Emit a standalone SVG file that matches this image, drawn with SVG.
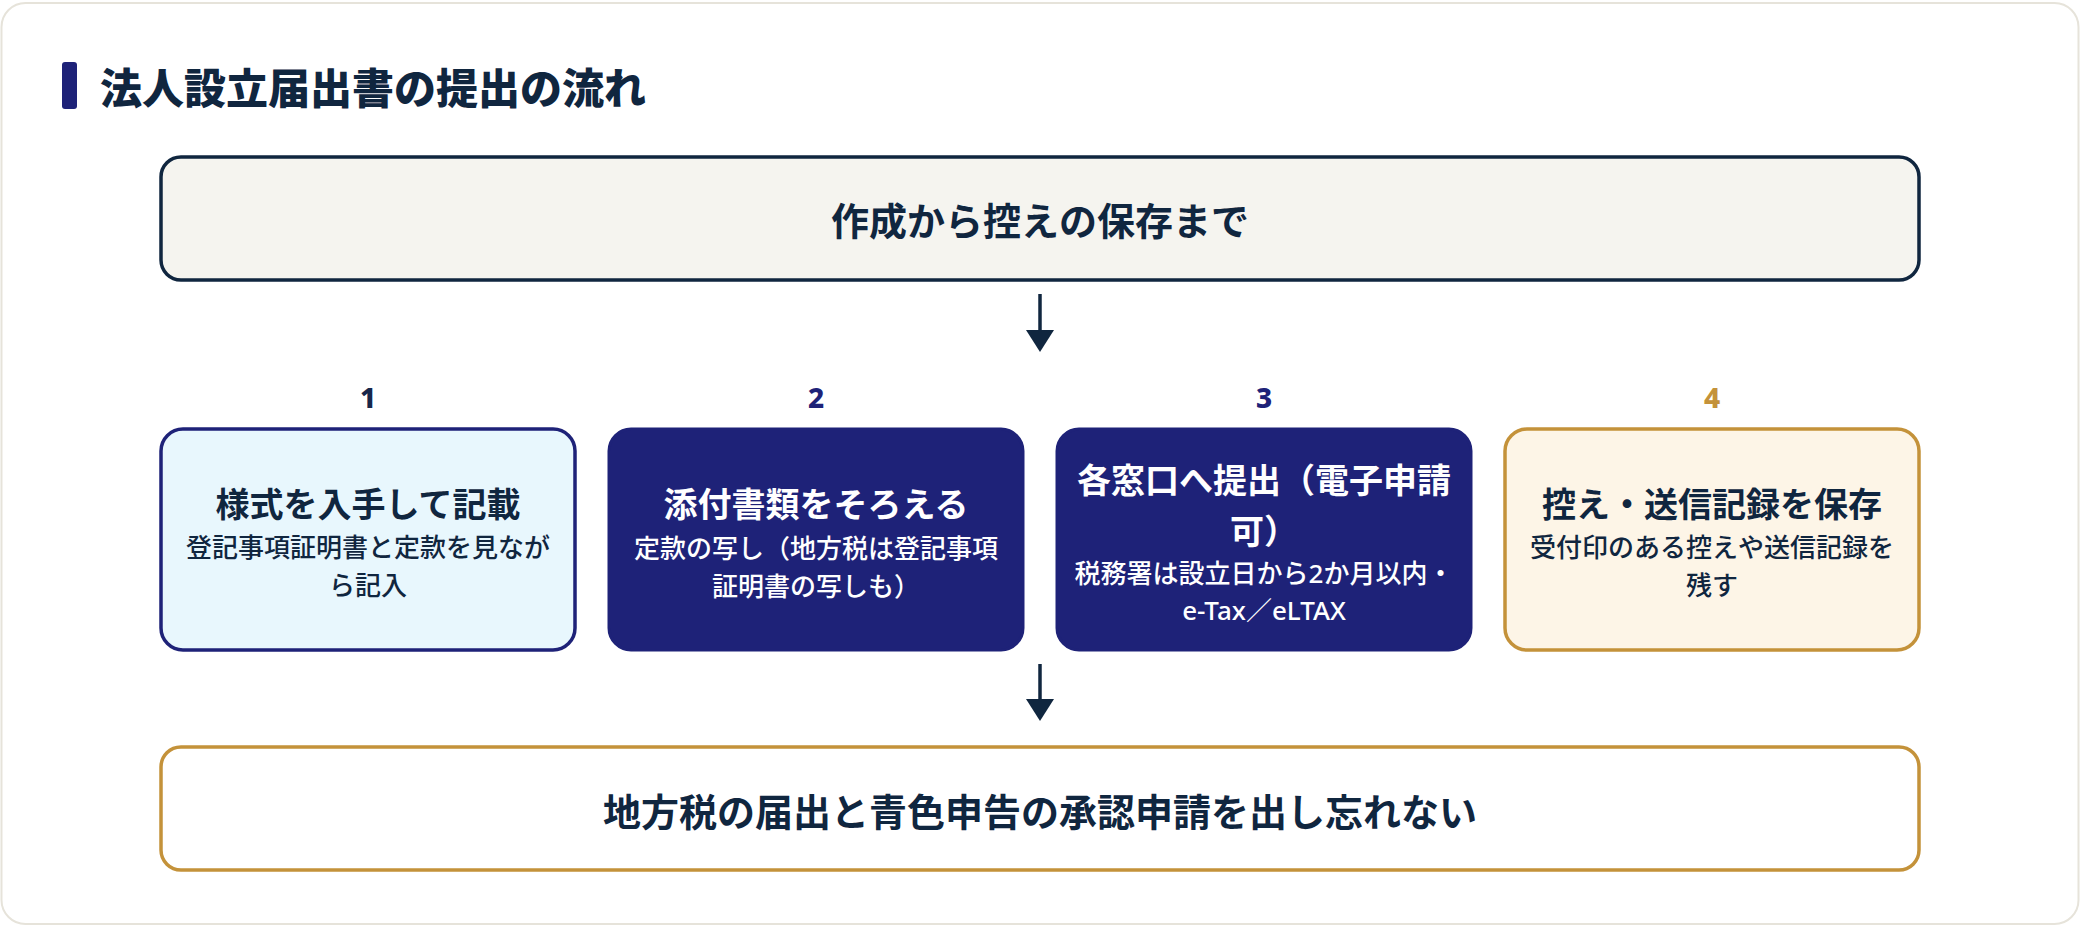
<svg xmlns="http://www.w3.org/2000/svg" width="2080" height="926" viewBox="0 0 2080 926">
<style>
  text { font-family: "Noto Sans", "Noto Sans CJK JP", sans-serif; text-anchor: middle; }
  .dark { fill: #10263f; }
  .white { fill: #ffffff; }
  .title { font-size: 42px; font-weight: 900; text-anchor: start; }
  .big { font-size: 38px; font-weight: 700; }
  .h { font-size: 34px; font-weight: 700; }
  .s { font-size: 26px; font-weight: 500; }
  .num { font-size: 28px; font-weight: 800; }
  .conn line { stroke: #10263f; stroke-width: 3.5; }
  .conn polygon { fill: #10263f; }
</style>
<rect x="1.5" y="3" width="2077" height="921" rx="24" fill="#ffffff" stroke="#e6e3da" stroke-width="2"/>
<g id="heading">
  <rect x="62" y="62" width="15" height="47" rx="3" fill="#1e2278"/>
  <text class="title dark" x="100" y="104">法人設立届出書の提出の流れ</text>
</g>
<g id="top">
  <rect x="161" y="157" width="1758" height="123" rx="20" fill="#f5f4ef" stroke="#10263f" stroke-width="3.5"/>
  <text class="big dark" x="1040" y="235">作成から控えの保存まで</text>
</g>
<g id="step1">
  <text class="num" x="368" y="408" fill="#17264a">1</text>
  <rect x="161" y="429" width="414" height="221" rx="22" fill="#e8f7fd" stroke="#1e2278" stroke-width="3.5"/>
  <text class="h dark" x="368" y="517">様式を入手して記載</text>
  <text class="s dark" x="368" y="557">登記事項証明書と定款を見なが</text>
  <text class="s dark" x="368" y="595">ら記入</text>
</g>
<g id="step2">
  <text class="num" x="816" y="408" fill="#1e2278">2</text>
  <rect x="609" y="429" width="414" height="221" rx="22" fill="#1e2278" stroke="#1e2278" stroke-width="3"/>
  <text class="h white" x="816" y="517">添付書類をそろえる</text>
  <text class="s white" x="816" y="558">定款の写し（地方税は登記事項</text>
  <text class="s white" x="816" y="596">証明書の写しも）</text>
</g>
<g id="step3">
  <text class="num" x="1264" y="408" fill="#1e2278">3</text>
  <rect x="1057" y="429" width="414" height="221" rx="22" fill="#1e2278" stroke="#1e2278" stroke-width="3"/>
  <text class="h white" x="1264" y="493">各窓口へ提出（電子申請</text>
  <text class="h white" x="1264" y="544">可）</text>
  <text class="s white" x="1264" y="583">税務署は設立日から2か月以内・</text>
  <text class="s white" x="1264" y="620">e-Tax／eLTAX</text>
</g>
<g id="step4">
  <text class="num" x="1712" y="408" fill="#c4923a">4</text>
  <rect x="1505" y="429" width="414" height="221" rx="22" fill="#fdf5e7" stroke="#c4923a" stroke-width="3.5"/>
  <text class="h dark" x="1712" y="517">控え・送信記録を保存</text>
  <text class="s dark" x="1712" y="557">受付印のある控えや送信記録を</text>
  <text class="s dark" x="1712" y="595">残す</text>
</g>
<g id="bottom">
  <rect x="161" y="747" width="1758" height="123" rx="20" fill="#ffffff" stroke="#c4923a" stroke-width="3.5"/>
  <text class="big dark" x="1040" y="826">地方税の届出と青色申告の承認申請を出し忘れない</text>
</g>
<g id="connectors" class="conn">
  <line x1="1040" y1="294" x2="1040" y2="332"/>
  <polygon points="1026,330 1054,330 1040,352"/>
  <line x1="1040" y1="664" x2="1040" y2="701"/>
  <polygon points="1026,699 1054,699 1040,721"/>
</g>
</svg>
